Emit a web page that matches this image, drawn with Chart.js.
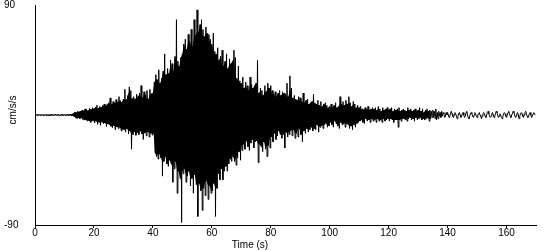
<!DOCTYPE html>
<html>
<head>
<meta charset="utf-8">
<script src="https://cdn.jsdelivr.net/npm/chart.js@4/dist/chart.umd.min.js"></script>
<style>
  body { margin: 0; background: #fff; }
  #wrap { width: 550px; height: 250px; }
</style>
</head>
<body>
<div id="wrap"><canvas id="chart1" width="550" height="250"></canvas></div>
<script>
// Acceleration record, one value every 0.25 s (each row = 5 s)
const sampleStep = 0.25;
const accel = [
  0.4,-0.3,0.3,-0.4,0.5,-0.3,0.2,-0.4,0.4,-0.2,0.3,-0.5,0.4,-0.3,0.3,-0.4,0.5,-0.3,0.2,-0.4,
  0.3,-0.4,0.5,-0.3,0.4,-0.5,0.3,-0.2,0.6,-0.4,0.3,-0.3,0.4,-0.5,0.2,-0.3,0.4,-0.4,0.5,-0.3,
  0.4,-0.3,0.3,-0.5,0.5,-0.4,0.4,-0.3,0.5,-0.6,0.7,-0.8,1.5,-1.2,2.5,-2,2,-2.8,3,-2.2,
  2.6,-3,3.2,-2.4,4,-3.5,3,-4.2,5,-3.8,4.5,-5,3.6,-4.4,5.5,-6,4.8,-5.2,6,-4.6,
  5.2,-6.5,6.4,-5,8,-7.6,5.6,-6,7,-8.4,6.2,-5.8,7.8,-7,9,-6.6,7.4,-9.5,8.5,-7.2,
  10,-8,14,-9.2,8.8,-10.4,11,-8.6,9.4,-12,12.6,-9.8,10.2,-11,15,-10,11.8,-13,10.6,-11.6,
  13,-12,21,-14,12.4,-11.2,16,-15.4,23,-13,20,-28,13.4,-16,15,-13.8,12.8,-16.6,17,-14.4,
  15,-16,18,-13,24,-15.6,14,-20,19,-14.8,16.6,-17,20,-13.6,13,-18,21,-15,17.4,-16.4,
  18,-15,27,-31,33,-34,29,-36,37,-32,26,-35,30,-50,36,-38,50,-34,33,-40,
  38,-42,34,-37,45,-40,42,-55,36,-44,48,-38,78,-64,44,-46,40,-52,47,-88,
  50,-48,58,-44,62,-55,54,-50,66,-46,60,-58,70,-52,56,-64,78,-49,65,-57,
  86,-83,68,-56,74,-62,78,-78,70,-60,64,-66,72,-54,67,-69,66,-58,62,-64,
  58,-62,67,-56,52,-83,50,-60,55,-48,45,-53,48,-44,53,-53,40,-46,44,-42,
  50,-46,38,-40,46,-36,42,-38,44,-34,53,-38,47,-41,30,-35,40,-30,28,-37,
  26,-29,31,-24,22,-28,27,-21,24,-26,20,-29,31,-23,25,-20,22,-27,24,-22,
  26,-21,45,-39,18,-24,22,-26,20,-30,16,-22,24,-28,19,-34,26,-25,22,-27,
  24,-18,20,-22,17,-15,19,-20,15,-17,18,-13,20,-16,16,-19,19,-16,18,-27,
  17,-14,26,-18,15,-16,32,-13,22,-17,14,-12,16,-19,13,-15,12,-18,15,-11,
  14,-16,11,-22,18,-13,10,-15,12,-11,13,-14,9,-12,10,-10,11,-13,17,-11,
  10,-12,9,-8,12,-14,8,-10,11,-9,7,-11,9,-8,10,-7,8,-10,6,-9,
  7,-6,9,-8,6,-10,8,-5,10,-7,6,-9,7,-11,15,-6,9,-8,11,-7,
  8,-10,12,-7,9,-8,15,-11,10,-9,7,-12,11,-8,9,-10,6,-7,8,-6,
  6,-5,7,-4,5,-6,4,-7,6,-3,5,-5,7,-4,4,-6,5,-3,6,-5,
  5,-4,6,-6,4,-3,7,-5,5,-4,3,-6,6,-3,4,-5,5,-4,6,-3,
  4,-5,5,-3,6,-4,3,-6,5,-4,4,-4,5,-10,6,-4,3,-5,4,-3,
  5,-3,4,-4,3,-5,6,-3,4,-2,5,-4,3,-3,4,-5,5,-2,3,-4,
  4,-3,6,-2,3,-4,5,-3,2,-4,4,-3,5,-2,3,-5,4,-3,3,-2,
  4,-2,3,-3,5,-4,2,-3,3,-1,2,-2,3,-1,2,1,-2,-1,2,0,
  2,0,-2,-1,1,3,1,-1,-2,0,2,1,-1,-3,-1,1,2,0,-2,-1,
  1,2,0,-2,-1,2,3,0,-2,-3,-1,1,2,1,-1,-2,0,2,1,-1,
  -2,0,1,2,0,-1,-3,-1,1,2,1,-1,-2,0,2,3,1,-1,-2,-1,
  1,2,0,-2,-1,1,3,2,0,-2,-1,1,0,-2,-3,-1,1,2,1,-1,
  -2,0,2,3,1,-1,-2,0,1,3,2,0,-2,-1,1,2,0,-3,-1,1,
  2,1,-1,-2,0,2,3,1,-1,-2,-1,1,2,0,-2,-1,1,2,1,0
];
const bandEnd = 540; // up to 135 s the samples swing up/down, so the core between swings is solid
const xTicks = [0, 20, 40, 60, 80, 100, 120, 140, 160];
const yTicks = [-90, 90];
const xTitle = 'Time (s)';
const yTitle = 'cm/s/s';

const font = { family: 'Liberation Sans, Arial, sans-serif', size: 10, lineHeight: 1 };

const points = accel.map((v, i) => ({ x: i * sampleStep, y: v }));

// solid core: the smaller of two neighbouring swings, so single big swings stay thin spikes
const upper = [];
const lower = [];
for (let i = 0; i + 2 < bandEnd; i += 2) {
    upper.push({ x: i * sampleStep, y: Math.min(accel[i], accel[i + 2]) });
    lower.push({ x: (i + 1) * sampleStep, y: Math.max(accel[i + 1], accel[i + 3]) });
}

// axis titles sit at fixed spots like in the original plot
const titlePlugin = {
    id: 'titles',
    afterDraw(chart) {
        const c = chart.ctx;
        c.save();
        c.fillStyle = '#000';
        c.font = '10px ' + font.family;
        c.textAlign = 'center';
        c.textBaseline = 'middle';
        c.fillText(xTitle, 250, 245);
        c.translate(13, 110);
        c.rotate(-Math.PI / 2);
        c.fillText(yTitle, 0, 0);
        c.restore();
    }
};

const ctx1 = document.getElementById('chart1').getContext('2d');
new Chart(ctx1, {
    type: 'line',
    data: {
        datasets: [{
            data: points,
            borderColor: '#000',
            borderWidth: 1,
            pointRadius: 0,
            tension: 0,
            fill: false
        }, {
            data: upper,
            borderWidth: 0,
            borderColor: 'rgba(0,0,0,0)',
            backgroundColor: '#000',
            pointRadius: 0,
            tension: 0,
            fill: 2
        }, {
            data: lower,
            borderWidth: 0,
            borderColor: 'rgba(0,0,0,0)',
            pointRadius: 0,
            tension: 0,
            fill: false
        }]
    },
    options: {
        responsive: false,
        animation: false,
        layout: { padding: { top: 5, right: 14, left: 4, bottom: 0 } },
        plugins: { legend: { display: false }, tooltip: { enabled: false } },
        scales: {
            x: {
                type: 'linear',
                min: 0,
                max: 170,
                afterBuildTicks: s => { s.ticks = xTicks.map(v => ({ value: v })); },
                afterFit: s => { s.height = 25; },
                grid: { drawOnChartArea: false, tickLength: 3, color: '#000' },
                border: { color: '#000', width: 1 },
                ticks: { color: '#000', font: font, padding: 0, maxRotation: 0 }
            },
            y: {
                min: -90,
                max: 90,
                afterBuildTicks: s => { s.ticks = yTicks.map(v => ({ value: v })); },
                afterFit: s => { s.width = 31; },
                grid: { drawOnChartArea: false, drawTicks: false },
                border: { color: '#000', width: 1 },
                ticks: { color: '#000', font: font, padding: 0, crossAlign: 'far' }
            }
        }
    },
    plugins: [titlePlugin]
});
</script>
</body>
</html>
